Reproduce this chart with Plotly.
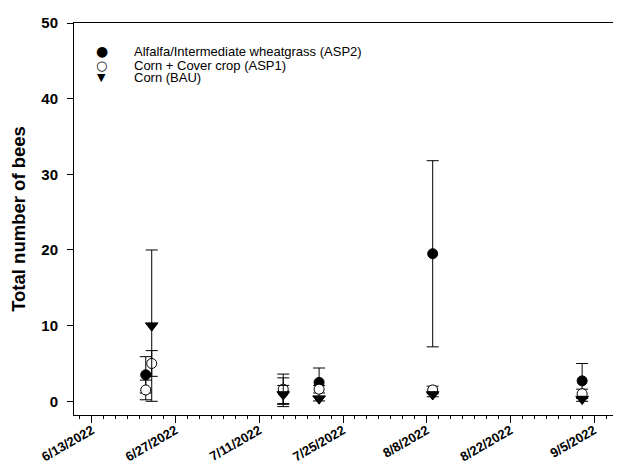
import plotly.graph_objects as go

# Tick labels / categories
x_tick_dates = ["2022-06-13", "2022-06-27", "2022-07-11", "2022-07-25", "2022-08-08", "2022-08-22", "2022-09-05"]
x_tick_labels = ["6/13/2022", "6/27/2022", "7/11/2022", "7/25/2022", "8/8/2022", "8/22/2022", "9/5/2022"]
y_tick_vals = [0, 10, 20, 30, 40, 50]

# Series: Alfalfa/Intermediate wheatgrass (ASP2)
asp2_name = "Alfalfa/Intermediate wheatgrass (ASP2)"
asp2_dates = ["2022-06-22", "2022-07-15", "2022-07-21", "2022-08-09", "2022-09-03"]
asp2_vals = [3.5, 1.2, 2.5, 19.5, 2.7]
asp2_err = [2.4, 1.9, 1.9, 12.3, 2.3]

# Series: Corn + Cover crop (ASP1)
asp1_name = "Corn + Cover crop (ASP1)"
asp1_dates = ["2022-06-22", "2022-06-23", "2022-07-15", "2022-07-21", "2022-08-09", "2022-09-03"]
asp1_vals = [1.5, 5.0, 1.6, 1.6, 1.5, 1.0]
asp1_err = [1.3, 1.7, 2.0, 0.5, 0.5, 0.6]

# Series: Corn (BAU)
bau_name = "Corn (BAU)"
bau_dates = ["2022-06-23", "2022-07-15", "2022-07-21", "2022-08-09", "2022-09-03"]
bau_vals = [10.0, 0.9, 0.35, 0.9, 0.3]
bau_err = [10.0, 1.2, 0.3, 0.3, 0.3]

FONT = "Liberation Sans, Arial, sans-serif"

def err(e):
    return dict(type="data", array=e, visible=True, color="black", thickness=1, width=6)

fig = go.Figure()
fig.add_trace(go.Scatter(
    x=asp2_dates, y=asp2_vals, mode="markers", name=asp2_name,
    marker=dict(symbol="circle", size=10, color="black", line=dict(color="black", width=1)),
    error_y=err(asp2_err)))
fig.add_trace(go.Scatter(
    x=asp1_dates, y=asp1_vals, mode="markers", name=asp1_name,
    marker=dict(symbol="circle", size=10, color="white", line=dict(color="black", width=1)),
    error_y=err(asp1_err)))
fig.add_trace(go.Scatter(
    x=bau_dates, y=bau_vals, mode="markers", name=bau_name,
    marker=dict(symbol="triangle-down", size=11, color="black", line=dict(color="black", width=1)),
    error_y=err(bau_err)))

# Compact legend (SigmaPlot style) built from annotations
legend_rows = [("●", asp2_name, 14), ("○", asp1_name, 13), ("▼", bau_name, 11)]
row_y = [0.9277, 0.8928, 0.8603]
for (glyph, label, gsize), yy in zip(legend_rows, row_y):
    fig.add_annotation(xref="paper", yref="paper", x=0.051, y=yy, text=glyph,
                       showarrow=False, xanchor="center", yanchor="middle", borderpad=0,
                       font=dict(size=gsize, family="DejaVu Sans", color="black"))
    fig.add_annotation(xref="paper", yref="paper", x=0.108, y=yy, text=label,
                       showarrow=False, xanchor="left", yanchor="middle", borderpad=0,
                       font=dict(size=13, family=FONT, color="black"))

fig.update_layout(
    width=621, height=473,
    margin=dict(l=64, r=8, t=6, b=66),
    plot_bgcolor="white", paper_bgcolor="white",
    font=dict(family=FONT, color="black"),
    showlegend=False,
)
fig.update_xaxes(
    type="date", range=["2022-06-10", "2022-09-09 12:00"],
    tickmode="array", tickvals=x_tick_dates, ticktext=x_tick_labels,
    tickangle=-30, tickfont=dict(size=13, family=FONT, weight="bold"),
    showline=True, linecolor="black", linewidth=1, mirror=True,
    ticks="outside", ticklen=7, tickcolor="black", tickwidth=1,
    ticklabelstandoff=-5, ticklabeloverflow="allow",
    showgrid=False, zeroline=False,
    minor=dict(dtick=2 * 86400000, tick0="2022-06-13", ticks="outside", ticklen=3,
               tickcolor="black", showgrid=False),
)
fig.update_yaxes(
    range=[-1.81, 50], tickmode="array", tickvals=y_tick_vals,
    tickfont=dict(size=15, family=FONT, weight="bold"),
    showline=True, linecolor="black", linewidth=1,
    ticks="outside", ticklen=6, tickcolor="black", tickwidth=1, ticklabelstandoff=6,
    ticklabeloverflow="allow",
    showgrid=False, zeroline=False,
    title=dict(text="Total number of bees", font=dict(size=18.5, family=FONT, weight="bold"), standoff=14),
)

fig.write_html("out.html")
